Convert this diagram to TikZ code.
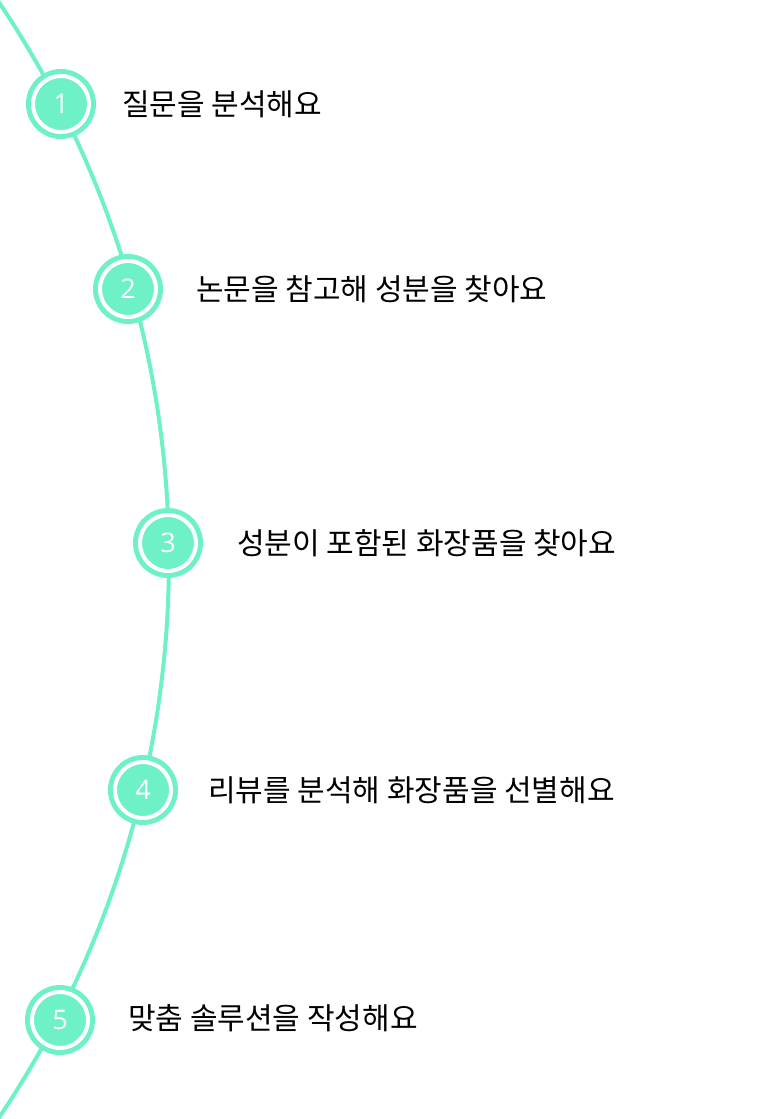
\documentclass[tikz,border=0pt]{standalone}
\usepackage{fontspec}
\setmainfont{Noto Sans CJK KR}
\newfontfamily\numfont{Open Sans}
\definecolor{mint}{HTML}{6EF0C8}
\begin{document}
\begin{tikzpicture}[x=1pt,y=-1pt,
  stepcircle/.style={circle,fill=mint,draw=white,line width=4pt,minimum size=56pt,inner sep=0pt,
    font=\numfont\fontsize{27}{29}\selectfont,text=white},
  ring/.style={circle,fill=mint,minimum size=70pt,inner sep=0pt},
  steplabel/.style={anchor=west,font=\fontsize{30}{34}\selectfont,text=black,inner sep=0pt},
  path/.style={mint,line width=4pt}]
\useasboundingbox (0,0) rectangle (776,1119);
\draw[path] (-831,560) ++(-34.2:1000) arc[start angle=-34.2, end angle=34.2, radius=1000];
\foreach \n/\x/\y in {1/61/104, 2/128/289, 3/168/543, 4/143/790, 5/60/1020}{
  \node[ring] (r\n) at (\x,\y) {};
  \node[stepcircle] (c\n) at (\x,\y) {\n};
}
\node[steplabel] (t1) at (122,104) {질문을 분석해요};
\node[steplabel] (t2) at (196,289) {논문을 참고해 성분을 찾아요};
\node[steplabel] (t3) at (237,543) {성분이 포함된 화장품을 찾아요};
\node[steplabel] (t4) at (208,790) {리뷰를 분석해 화장품을 선별해요};
\node[steplabel] (t5) at (128,1018) {맞춤 솔루션을 작성해요};
\end{tikzpicture}
\end{document}
